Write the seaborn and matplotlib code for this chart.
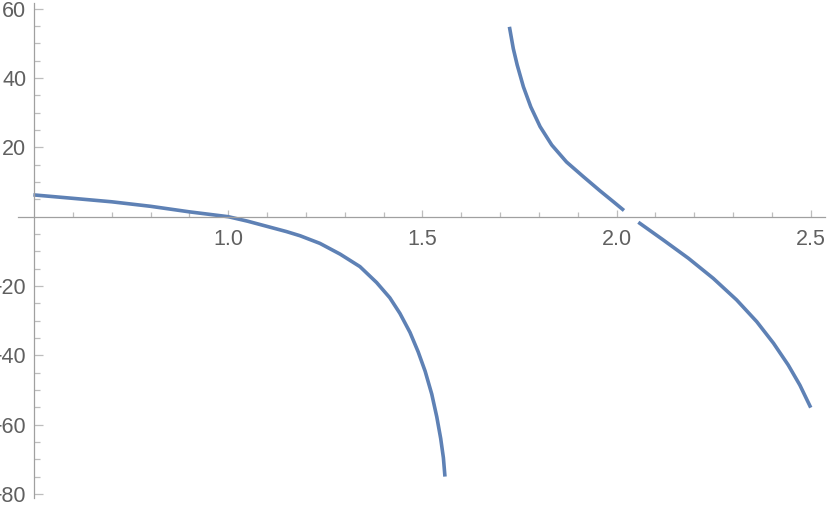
import numpy as np
import pandas as pd
import matplotlib
matplotlib.use("Agg")
import matplotlib.pyplot as plt
import seaborn as sns

# values, one list per curve piece
x_left = [0.498, 0.600, 0.700, 0.800, 0.900, 1.000, 1.050, 1.100, 1.150, 1.185,
          1.236, 1.288, 1.339, 1.382, 1.416, 1.442, 1.468, 1.489, 1.507, 1.524,
          1.537, 1.547, 1.554, 1.558]
y_left = [6.3, 5.3, 4.3, 3.0, 1.4, 0.0, -1.3, -2.8, -4.3, -5.5,
          -7.7, -10.8, -14.4, -19.0, -23.4, -27.9, -33.4, -39.0, -44.6, -51.2,
          -57.8, -64.0, -69.6, -75.0]

x_mid = [1.724, 1.734, 1.744, 1.760, 1.779, 1.803, 1.833, 1.871, 1.914, 1.957,
         1.992, 2.019]
y_mid = [54.8, 48.5, 43.8, 37.5, 31.7, 26.0, 20.7, 15.8, 11.6, 7.5,
         4.3, 1.8]

x_right = [2.056, 2.120, 2.185, 2.249, 2.309, 2.361, 2.404, 2.442, 2.472, 2.500]
y_right = [-1.6, -6.7, -12.0, -17.8, -24.0, -30.3, -36.5, -42.8, -48.6, -55.1]

x_ticks = [1.0, 1.5, 2.0, 2.5]
x_tick_labels = ["1.0", "1.5", "2.0", "2.5"]
y_ticks = [60, 40, 20, -20, -40, -60, -80]
y_tick_labels = ["60", "40", "20", "\u221220", "\u221240", "\u221260", "\u221280"]

pieces = [("a", x_left, y_left), ("b", x_mid, y_mid), ("c", x_right, y_right)]
df = pd.concat([pd.DataFrame({"x": xs, "y": ys, "piece": name}) for name, xs, ys in pieces],
               ignore_index=True)

sns.set_style("white")
plt.rcParams["font.family"] = ["Liberation Sans", "DejaVu Sans"]

LINE = "#5e81b5"
AXIS = "#a0a0a0"
TICK = "#bdbdbd"
LABEL = "#606060"

fig = plt.figure(figsize=(8.3, 5.05), dpi=100)
ax = fig.add_axes([0, 0, 1, 1])
ax.patch.set_alpha(0)

sns.lineplot(data=df, x="x", y="y", units="piece", estimator=None, sort=False,
             color=LINE, linewidth=2.6, ax=ax, legend=False)
for ln in ax.get_lines():
    ln.set_solid_capstyle("butt")
    ln.set_solid_joinstyle("round")

ax.set_xlim(0.4121, 2.5496)
ax.set_ylim(-83.2, 62.54)

# axes crossing like the original
ax.spines["top"].set_visible(False)
ax.spines["right"].set_visible(False)
ax.spines["left"].set_position(("data", 0.5))
ax.spines["bottom"].set_position(("data", 0))
ax.spines["left"].set_bounds(-81.2, 61.7)
ax.spines["bottom"].set_bounds(0.458, 2.537)
for s in ("left", "bottom"):
    ax.spines[s].set_color(AXIS)
    ax.spines[s].set_linewidth(0.9)

ax.set_xticks(x_ticks)
ax.set_xticklabels(x_tick_labels)
ax.set_xticks([v for v in np.arange(0.6, 2.45, 0.1) if round(v * 10) % 5 != 0], minor=True)
ax.set_yticks(y_ticks)
ax.set_yticklabels(y_tick_labels)
ax.set_yticks([v for v in range(-75, 60, 5) if v % 20 != 0], minor=True)

ax.tick_params(bottom=True, left=True, which="both")
ax.tick_params(axis="x", which="major", direction="in", length=5, width=0.9,
               color=TICK, labelcolor=LABEL, labelsize=15.5, pad=9)
ax.tick_params(axis="x", which="minor", direction="in", length=3.3, width=0.9, color=TICK)
ax.tick_params(axis="y", which="major", direction="in", length=6.5, width=0.9,
               color=TICK, labelcolor=LABEL, labelsize=15.5, pad=5.5)
ax.tick_params(axis="y", which="minor", direction="in", length=4.3, width=0.9, color=TICK)

ax.set_xlabel("")
ax.set_ylabel("")

fig.savefig("out.png", dpi=100)
